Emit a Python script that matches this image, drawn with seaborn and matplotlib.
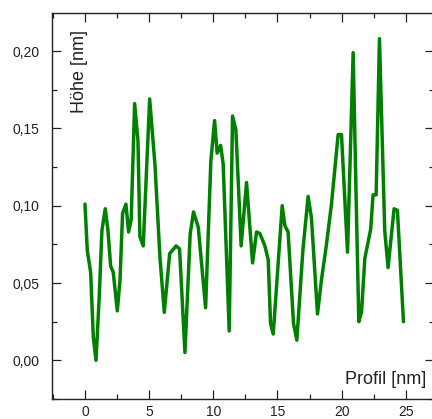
import numpy as np
import pandas as pd
import matplotlib
matplotlib.use("Agg")
import matplotlib.pyplot as plt
from matplotlib.ticker import MultipleLocator, FuncFormatter
import seaborn as sns

# profile values
profil_nm = [0.0, 0.18, 0.44, 0.65, 0.86, 1.11, 1.32, 1.58, 1.79, 2.0, 2.2, 2.52, 2.73, 2.93,
             3.19, 3.4, 3.6, 3.87, 4.13, 4.28, 4.54, 5.04, 5.45, 5.84, 6.18, 6.6, 7.1, 7.37,
             7.79, 8.2, 8.46, 8.83, 9.4, 9.81, 10.1, 10.3, 10.57, 10.77, 11.24, 11.5, 11.76,
             12.17, 12.59, 13.06, 13.37, 13.63, 14.02, 14.28, 14.46, 14.67, 15.37, 15.58,
             15.83, 16.25, 16.51, 16.98, 17.39, 17.65, 18.12, 18.43, 18.82, 19.21, 19.73,
             19.99, 20.46, 20.9, 21.13, 21.34, 21.55, 21.81, 22.27, 22.45, 22.69, 22.95,
             23.36, 23.62, 24.09, 24.35, 24.82]
hoehe_nm = [0.101, 0.071, 0.057, 0.015, 0.0, 0.041, 0.084, 0.098, 0.084, 0.061, 0.057, 0.032,
            0.052, 0.095, 0.101, 0.083, 0.091, 0.166, 0.142, 0.080, 0.074, 0.169, 0.127,
            0.067, 0.031, 0.069, 0.074, 0.072, 0.005, 0.082, 0.096, 0.086, 0.034, 0.129,
            0.155, 0.134, 0.139, 0.127, 0.019, 0.158, 0.149, 0.074, 0.115, 0.063, 0.083,
            0.082, 0.074, 0.065, 0.024, 0.017, 0.100, 0.087, 0.083, 0.024, 0.013, 0.071,
            0.106, 0.092, 0.030, 0.052, 0.075, 0.101, 0.146, 0.146, 0.070, 0.199, 0.106,
            0.025, 0.031, 0.066, 0.085, 0.107, 0.107, 0.208, 0.084, 0.060, 0.098, 0.097,
            0.025]

df = pd.DataFrame({"Profil": profil_nm, "Hoehe": hoehe_nm})

sns.set_style("ticks")
plt.rcParams["font.family"] = ["Liberation Sans", "DejaVu Sans"]

fig = plt.figure(figsize=(4.32, 4.19), dpi=100)
ax = fig.add_axes([52 / 432, 20 / 419, 382 / 432, 386 / 419])

sns.lineplot(data=df, x="Profil", y="Hoehe", ax=ax, color="#008000", linewidth=2.5,
             sort=False, estimator=None, solid_joinstyle="round", solid_capstyle="round")

ax.set_xlim(-2.57, 27.2)
ax.set_ylim(-0.025, 0.2246)
ax.xaxis.set_major_locator(MultipleLocator(5))
ax.xaxis.set_minor_locator(MultipleLocator(2.5))
ax.yaxis.set_major_locator(MultipleLocator(0.05))
ax.yaxis.set_minor_locator(MultipleLocator(0.025))
ax.yaxis.set_major_formatter(FuncFormatter(lambda v, p: f"{v:.2f}".replace(".", ",")))
ax.xaxis.set_major_formatter(FuncFormatter(lambda v, p: f"{v:g}"))

ax.tick_params(which="both", direction="in", top=True, right=True, color="#222222",
               width=0.9, labelsize=10, labelcolor="#222222")
ax.tick_params(which="major", length=6.5)
ax.tick_params(which="minor", length=3.5)
ax.tick_params(axis="y", which="major", pad=9)
ax.tick_params(axis="x", which="major", pad=4.5)
for s in ax.spines.values():
    s.set_linewidth(1.0)
    s.set_color("#222222")

ax.set_xlabel("")
ax.set_ylabel("")
ax.text(0.073, 0.956, "Höhe [nm]", transform=ax.transAxes, rotation=90, ha="center",
        va="top", fontsize=13, color="#222222")
ax.text(0.979, 0.04, "Profil [nm]", transform=ax.transAxes, ha="right", va="baseline",
        fontsize=13, color="#222222")

fig.savefig("out.png", dpi=100)
